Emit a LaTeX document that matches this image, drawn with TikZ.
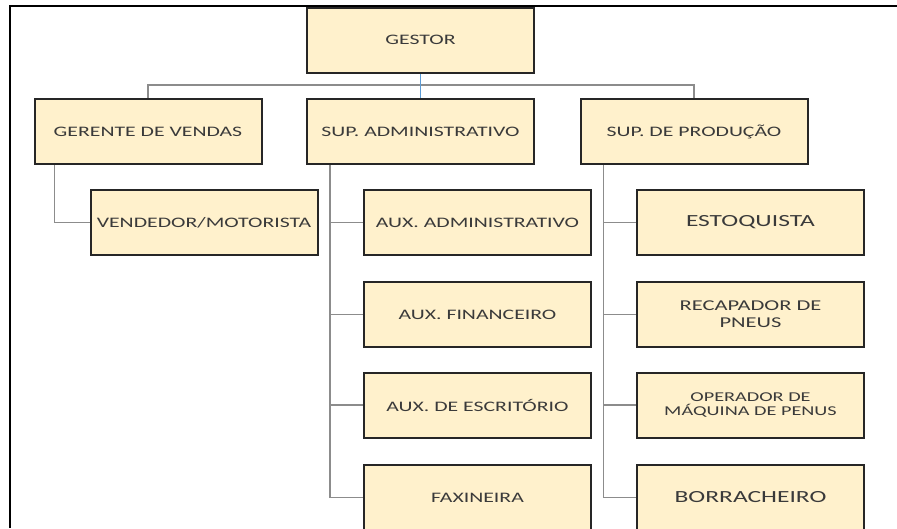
\documentclass[tikz,border=0pt]{standalone}
\usepackage{fontspec}
\usetikzlibrary{backgrounds}
\newfontfamily\boxfont[FakeStretch=1.5]{Carlito}
\definecolor{caixa}{HTML}{FFF1CC}
\definecolor{texto}{HTML}{3A3A3A}
\definecolor{linha}{HTML}{8C8C8C}
\definecolor{azul}{HTML}{5B9BD5}
\begin{document}
\begin{tikzpicture}[x=1pt, y=1pt,
		cargo/.style={draw=black!85, line width=2pt, fill=caixa, text=texto,
			minimum width=227pt, minimum height=65pt, inner sep=2pt, align=center,
			font=\boxfont\fontsize{14.5}{17}\selectfont},
		grande/.style={font=\boxfont\fontsize{17}{19}\selectfont},
		medio/.style={font=\boxfont\fontsize{15}{17}\selectfont},
		pequeno/.style={font=\boxfont\fontsize{13.5}{14}\selectfont},
		ligacao/.style={draw=linha, line width=1.3pt}]
	\useasboundingbox (0,0) rectangle (897,-528);
	% moldura
	\draw[line width=2pt] (10,-528) -- (10,-6) -- (897,-6);
	
	% 1. gestor e supervisores
	\node[cargo] (gestor) at (420.5,-40) {GESTOR};
	\node[cargo] (gerente) at (148,-131.5) {GERENTE DE VENDAS};
	\node[cargo] (supadm) at (420.5,-131.5) {SUP. ADMINISTRATIVO};
	\node[cargo] (supprod) at (694,-131.5) {SUP. DE PRODUÇÃO};
	
	% 2. subordinados
	\node[cargo] (vendedor) at (204,-222.5) {VENDEDOR/MOTORISTA};
	
	\node[cargo] (auxadm) at (477.5,-222.5) {AUX. ADMINISTRATIVO};
	\node[cargo] (auxfin) at (477.5,-314.5) {AUX. FINANCEIRO};
	\node[cargo] (auxesc) at (477.5,-405) {AUX. DE ESCRITÓRIO};
	\node[cargo] (faxineira) at (477.5,-497.5) {FAXINEIRA};
	
	\node[cargo, grande] (estoquista) at (750.5,-222.5) {ESTOQUISTA};
	\node[cargo, medio] (recapador) at (750.5,-314.5) {RECAPADOR DE\\PNEUS};
	\node[cargo, pequeno] (operador) at (750.5,-405) {OPERADOR DE\\MÁQUINA DE PENUS};
	\node[cargo, grande] (borracheiro) at (750.5,-497.5) {BORRACHEIRO};
	
	% 3. ligações (atrás das caixas)
	\begin{scope}[on background layer]
	\draw[ligacao] (gerente.north) -- ++(0,13) -| (supprod.north);
	\draw[draw=azul, line width=1.3pt] (gestor.south) -- (supadm.north);
	
	\draw[ligacao] ([xshift=21pt]gerente.south west) |- (vendedor.west);
	
	\draw[ligacao] ([xshift=24pt]supadm.south west) |- (faxineira.west);
	\foreach \n in {auxadm, auxfin, auxesc}
		\draw[ligacao] ([xshift=24pt]supadm.south west |- \n.west) -- (\n.west);
	
	\draw[ligacao] ([xshift=24pt]supprod.south west) |- (borracheiro.west);
	\foreach \n in {estoquista, recapador, operador}
		\draw[ligacao] ([xshift=24pt]supprod.south west |- \n.west) -- (\n.west);
	\end{scope}
\end{tikzpicture}
\end{document}
